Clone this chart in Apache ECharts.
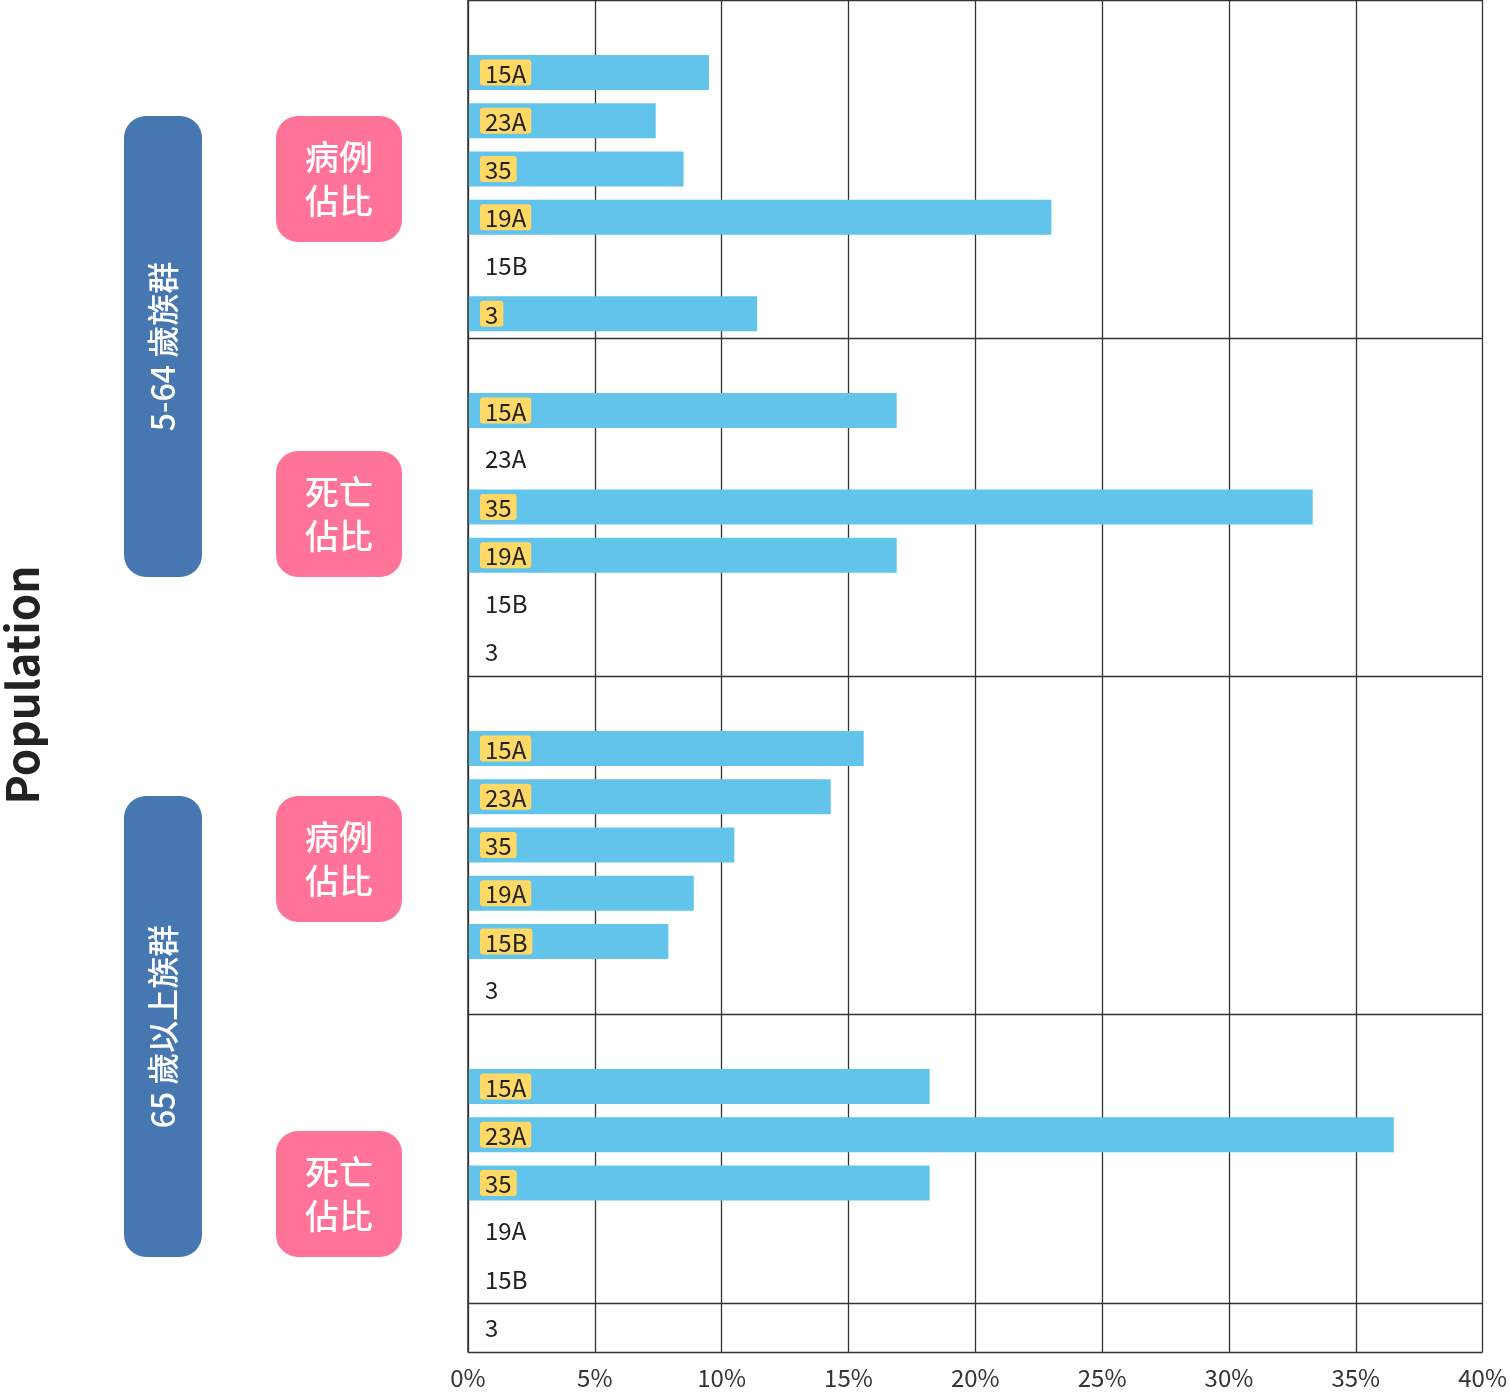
<!DOCTYPE html>
<html><head><meta charset="utf-8">
<script src="https://cdn.jsdelivr.net/npm/echarts@6/dist/echarts.min.js"></script>
<style>html,body{margin:0;padding:0;background:#fff}#box{width:1510px;height:1396px}</style>
</head><body><div id="box"></div>
<script>
var serotypes = ['15A', '23A', '35', '19A', '15B', '3'];
// 5-64 病例, 5-64 死亡, 65+ 病例, 65+ 死亡 (%)
var young_case = [9.5, 7.4, 8.5, 23.0, 0, 11.4];
var young_death = [16.9, 0, 33.3, 16.9, 0, 0];
var old_case = [15.6, 14.3, 10.5, 8.9, 7.9, 0];
var old_death = [18.2, 36.5, 18.2, 0, 0, 0];
var xTicks = [0, 5, 10, 15, 20, 25, 30, 35, 40];

var groups = [young_case, young_death, old_case, old_death];
var cats = [], vals = [];
groups.forEach(function (g, gi) {
    cats.push('gap' + gi); vals.push('-');
    serotypes.forEach(function (s, i) { cats.push(s); vals.push(g[i]); });
});

var font = '"Noto Sans CJK TC", "Noto Sans", sans-serif';
var chart = echarts.init(document.getElementById('box'));

function pinkBox(y, txt) {
    return {
        type: 'group', children: [
            { type: 'rect', shape: { x: 276, y: y, width: 126, height: 126, r: 22 }, style: { fill: '#FF7399' } },
            { type: 'text', x: 339, y: y + 63, style: { text: txt, fill: '#fff', font: '500 34px ' + font, align: 'center', verticalAlign: 'middle', lineHeight: 44 } }
        ]
    };
}
function blueBox(y, h, txt) {
    return {
        type: 'group', children: [
            { type: 'rect', shape: { x: 124, y: y, width: 78, height: h, r: 22 }, style: { fill: '#4677B0' } },
            { type: 'text', x: 163, y: y + h / 2, rotation: Math.PI / 2, style: { text: txt, fill: '#fff', font: '500 32px ' + font, align: 'center', verticalAlign: 'middle' } }
        ]
    };
}

var option = {
    animation: false,
    grid: { left: 468, right: 24, top: 0, bottom: 44 },
    xAxis: {
        type: 'value', min: 0, max: 40, interval: 5,
        axisLine: { show: false }, axisTick: { show: false },
        axisLabel: { formatter: '{value}%', color: '#333', fontSize: 24, fontFamily: font, margin: 14 },
        splitLine: { lineStyle: { color: '#333', width: 1.3 } }
    },
    yAxis: {
        type: 'category', data: cats, inverse: true,
        axisLine: { lineStyle: { color: '#333', width: 1.5 } },
        axisTick: { show: false },
        splitLine: { show: true, interval: 6, lineStyle: { color: '#333', width: 1.3 } },
        axisLabel: {
            inside: true, margin: 12, interval: 0,
            formatter: function (v, idx) {
                if (v.indexOf('gap') === 0) return '';
                return vals[idx] > 0 ? '{hl|' + v + '}' : '{pl|' + v + '}';
            },
            rich: {
                hl: { backgroundColor: '#FFD966', borderRadius: 3, padding: [2, 5, 0, 5], color: '#222', fontSize: 24, fontFamily: font },
                pl: { color: '#222', fontSize: 24, fontFamily: font, padding: [0, 5, 0, 5] }
            }
        },
        z: 5
    },
    series: [{
        type: 'bar', data: vals, barWidth: 35,
        itemStyle: { color: '#62C4EA' }
    }],
    graphic: [
        { type: 'text', x: 22, y: 685, rotation: Math.PI / 2, style: { text: 'Population', fill: '#222', font: 'bold 44px ' + font, align: 'center', verticalAlign: 'middle' } },
        blueBox(116, 461, '5-64 歲族群'),
        blueBox(796, 461, '65 歲以上族群'),
        pinkBox(116, '病例\n佔比'),
        pinkBox(451, '死亡\n佔比'),
        pinkBox(796, '病例\n佔比'),
        pinkBox(1131, '死亡\n佔比')
    ]
};
chart.setOption(option);
</script></body></html>
